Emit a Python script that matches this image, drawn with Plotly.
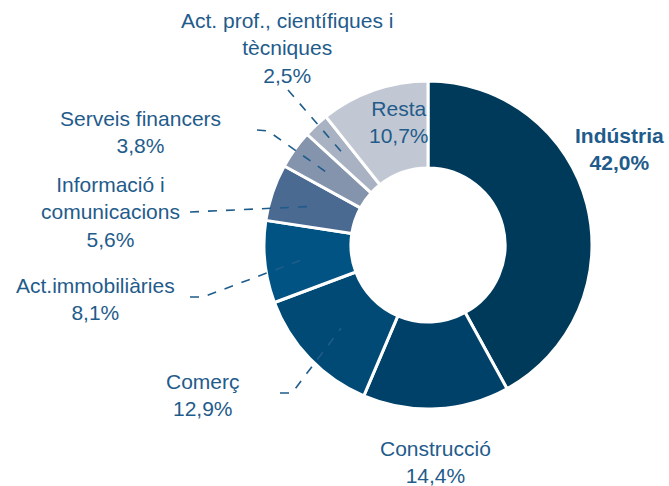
import math
import plotly.graph_objects as go

# Data
sectors = ["Indústria", "Construcció", "Comerç", "Act.immobiliàries",
           "Informació i comunicacions", "Serveis financers",
           "Act. prof., científiques i tècniques", "Resta"]
shares = [42.0, 14.4, 12.9, 8.1, 5.6, 3.8, 2.5, 10.7]
label_texts = ["<b>Indústria<br>42,0%</b>", "Construcció<br>14,4%", "Comerç<br>12,9%",
               "Act.immobiliàries<br>8,1%", "Informació i<br>comunicacions<br>5,6%",
               "Serveis financers<br>3,8%", "Act. prof., científiques i<br>tècniques<br>2,5%",
               "Resta<br>10,7%"]
colors = ["#003A5A", "#00416A", "#004A75", "#005382", "#4A6A92", "#8494AC", "#A8B2C2", "#C2C8D3"]

W, H = 669, 486
CX, CY, R_OUT, HOLE = 428, 245, 164, 0.47
TXT = "#1F5C8B"

def px(x):
    return x / W

def py(y):
    return 1 - y / H

fig = go.Figure(go.Pie(
    labels=sectors, values=shares, sort=False, direction="clockwise", rotation=0,
    hole=HOLE, textinfo="none", hoverinfo="label+percent",
    marker=dict(colors=colors, line=dict(color="white", width=3)),
    domain=dict(x=[px(CX - R_OUT), px(CX + R_OUT)], y=[py(CY + R_OUT), py(CY - R_OUT)]),
    showlegend=False,
))

# label positions (pixel centers) - style
label_pos = {
    0: (619, 149), 1: (436, 462), 2: (203, 395), 3: (95, 299),
    4: (110, 212), 5: (140, 132), 6: (287, 48), 7: (399, 122),
}
anns = []
for i, (x, y) in label_pos.items():
    anns.append(dict(x=px(x), y=py(y), xref="paper", yref="paper", text=label_texts[i],
                     showarrow=False, xanchor="center", yanchor="middle",
                     font=dict(family="Liberation Sans, Arial, sans-serif", size=21, color=TXT)))

# leader line outer start points (style), inner end computed from data
leader_start = {
    6: [(288, 90)],
    5: [(257, 130), (268, 131)],
    4: [(190, 212)],
    3: [(190, 297), (203, 297)],
    2: [(280, 393), (292, 393)],
}
total = sum(shares)
cum = [sum(shares[:i]) for i in range(len(shares))]
r_mid = R_OUT * (1 + HOLE) / 2
shapes = []
for i, pts in leader_start.items():
    frac = (cum[i] + shares[i] / 2) / total
    th = 2 * math.pi * frac
    ex, ey = CX + r_mid * math.sin(th), CY - r_mid * math.cos(th)
    allp = pts + [(ex, ey)]
    path = "M " + " L ".join(f"{px(a):.5f},{py(b):.5f}" for a, b in allp)
    shapes.append(dict(type="path", path=path, xref="paper", yref="paper",
                       line=dict(color=TXT, width=1.6, dash="dash")))

fig.update_layout(width=W, height=H, margin=dict(l=0, r=0, t=0, b=0),
                  paper_bgcolor="white", plot_bgcolor="white",
                  annotations=anns, shapes=shapes)
fig.write_html("out.html", config={"displayModeBar": False},
               post_script="document.body.style.margin='0';document.body.style.overflow='hidden';")
